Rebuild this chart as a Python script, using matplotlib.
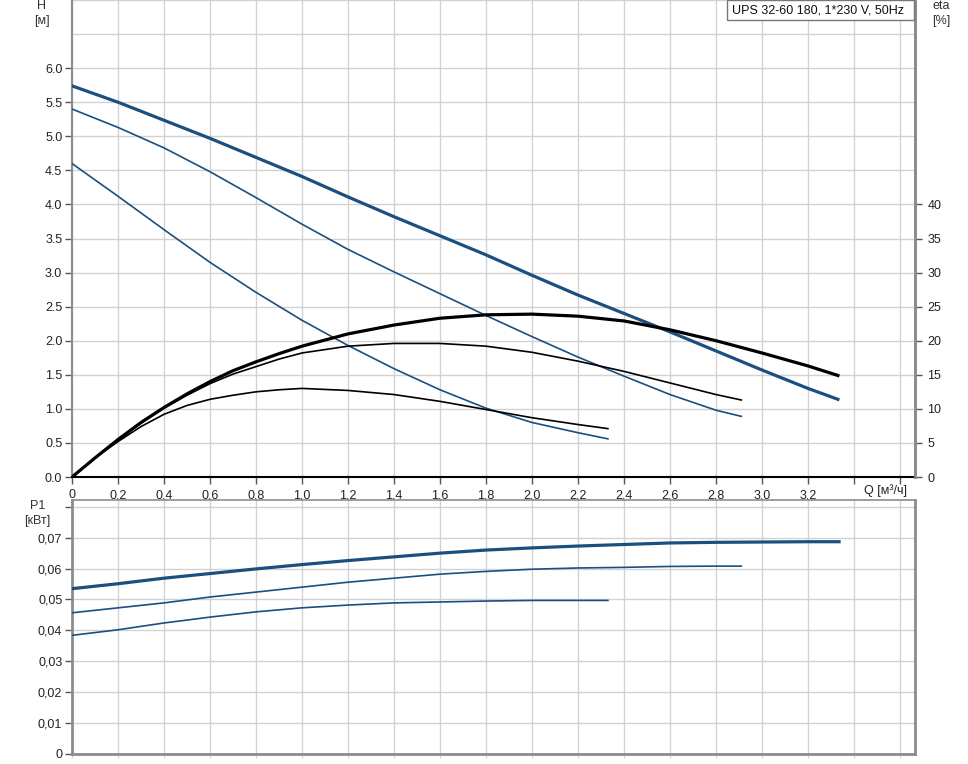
import matplotlib
matplotlib.use("Agg")
import matplotlib.pyplot as plt
from matplotlib.ticker import FixedLocator
from matplotlib.patches import Rectangle

plt.rcParams['font.family'] = ['Liberation Sans', 'DejaVu Sans']

# ---------------- data ----------------
# H curves (m)
q_h1 = [0, 0.2, 0.6, 1.0, 1.2, 1.4, 1.6, 1.8, 2.0, 2.2, 2.4, 2.6, 2.8, 3.0, 3.2, 3.33]
h1 = [5.74, 5.50, 4.97, 4.41, 4.11, 3.82, 3.54, 3.26, 2.96, 2.67, 2.40, 2.13, 1.85, 1.57, 1.30, 1.14]
q_h2 = [0, 0.2, 0.4, 0.6, 0.8, 1.0, 1.2, 1.4, 1.6, 1.8, 2.0, 2.2, 2.4, 2.6, 2.8, 2.91]
h2 = [5.40, 5.13, 4.83, 4.48, 4.10, 3.71, 3.34, 3.01, 2.69, 2.37, 2.06, 1.76, 1.48, 1.21, 0.98, 0.89]
q_h3 = [0, 0.2, 0.4, 0.6, 0.8, 1.0, 1.2, 1.4, 1.6, 1.8, 2.0, 2.2, 2.33]
h3 = [4.60, 4.12, 3.63, 3.15, 2.71, 2.30, 1.93, 1.59, 1.28, 1.01, 0.80, 0.65, 0.56]

# eta curves (%)
q_e1 = [0, 0.1, 0.2, 0.3, 0.4, 0.5, 0.6, 0.7, 0.8, 0.9, 1.0, 1.2, 1.4, 1.6, 1.8, 2.0, 2.2, 2.4,
        2.6, 2.8, 3.0, 3.2, 3.33]
e1 = [0, 2.8, 5.5, 8.0, 10.2, 12.2, 14.0, 15.6, 16.9, 18.1, 19.2, 21.0, 22.3, 23.3, 23.8, 23.9,
      23.6, 22.9, 21.6, 20.0, 18.2, 16.3, 14.9]
q_e2 = [0, 0.1, 0.2, 0.3, 0.4, 0.5, 0.6, 0.7, 0.8, 0.9, 1.0, 1.2, 1.4, 1.6, 1.8, 2.0, 2.2, 2.4,
        2.6, 2.8, 2.91]
e2 = [0, 2.8, 5.4, 7.9, 10.1, 12.0, 13.7, 15.1, 16.2, 17.3, 18.2, 19.2, 19.6, 19.6, 19.2, 18.3,
      17.0, 15.5, 13.8, 12.1, 11.3]
q_e3 = [0, 0.1, 0.2, 0.3, 0.4, 0.5, 0.6, 0.7, 0.8, 0.9, 1.0, 1.2, 1.4, 1.6, 1.8, 2.0, 2.2, 2.33]
e3 = [0, 2.8, 5.2, 7.4, 9.2, 10.5, 11.4, 12.0, 12.5, 12.8, 13.0, 12.7, 12.1, 11.1, 9.9, 8.7, 7.7, 7.1]

# P1 curves (kW)
q_p1 = [0, 0.2, 0.4, 0.6, 0.8, 1.0, 1.2, 1.4, 1.6, 1.8, 2.0, 2.2, 2.4, 2.6, 2.8, 3.0, 3.2, 3.335]
p1 = [0.0535, 0.0551, 0.0569, 0.0584, 0.0599, 0.0613, 0.0626, 0.0638, 0.0650, 0.0660, 0.0667,
      0.0673, 0.0678, 0.0683, 0.0685, 0.0686, 0.0687, 0.0687]
q_p2 = [0, 0.2, 0.4, 0.6, 0.8, 1.0, 1.2, 1.4, 1.6, 1.8, 2.0, 2.2, 2.4, 2.6, 2.8, 2.91]
p2 = [0.0457, 0.0473, 0.0489, 0.0508, 0.0524, 0.0540, 0.0556, 0.0569, 0.0582, 0.0591, 0.0598,
      0.0602, 0.0604, 0.0607, 0.0608, 0.0608]
q_p3 = [0, 0.2, 0.4, 0.6, 0.8, 1.0, 1.2, 1.4, 1.6, 1.8, 2.0, 2.2, 2.33]
p3 = [0.0384, 0.0402, 0.0424, 0.0443, 0.0460, 0.0473, 0.0482, 0.0489, 0.0492, 0.0495, 0.0497,
      0.0497, 0.0497]

x_ticks = [0, 0.2, 0.4, 0.6, 0.8, 1.0, 1.2, 1.4, 1.6, 1.8, 2.0, 2.2, 2.4, 2.6, 2.8, 3.0, 3.2, 3.4, 3.6]
x_labels = ['0', '0,2', '0,4', '0,6', '0,8', '1,0', '1,2', '1,4', '1,6', '1,8', '2,0', '2,2',
            '2,4', '2,6', '2,8', '3,0', '3,2', '', '']
h_ticks = [0, 0.5, 1.0, 1.5, 2.0, 2.5, 3.0, 3.5, 4.0, 4.5, 5.0, 5.5, 6.0]
h_labels = ['0.0', '0.5', '1.0', '1.5', '2.0', '2.5', '3.0', '3.5', '4.0', '4.5', '5.0', '5.5', '6.0']
eta_ticks = [0, 5, 10, 15, 20, 25, 30, 35, 40]
p_ticks = [0, 0.01, 0.02, 0.03, 0.04, 0.05, 0.06, 0.07, 0.08]
p_labels = ['0', '0,01', '0,02', '0,03', '0,04', '0,05', '0,06', '0,07', '']

title = "UPS 32-60 180, 1*230 V, 50Hz"

# ---------------- style ----------------
BLUE = '#1b4f80'
GRID = '#d2d2d2'
SPINE = '#8c8c8c'
FS = 9.0
W, H = 968, 764

fig = plt.figure(figsize=(W / 100, H / 100), dpi=100)

def box(l, t, r, b):
    return [l / W, 1 - b / H, (r - l) / W, (b - t) / H]

XMAX = (915 - 72) / 230.0

# ---------- top axes ----------
ax = fig.add_axes(box(72, 0, 915, 477))
ax.set_xlim(0, XMAX)
ax.set_ylim(0, 7.0)
ax.xaxis.set_major_locator(FixedLocator(x_ticks))
ax.set_xticklabels(x_labels)
ax.yaxis.set_major_locator(FixedLocator(h_ticks))
ax.set_yticklabels(h_labels)
ax.yaxis.set_minor_locator(FixedLocator([6.5, 7.0]))
ax.tick_params(axis='y', which='minor', length=0)
ax.grid(True, which='both', color=GRID, lw=1.0)
ax.set_axisbelow(True)
ax.tick_params(axis='both', which='major', labelsize=FS, length=5, width=1,
               color='#555555', labelcolor='#222222', pad=2)
ax.tick_params(axis='x', pad=4)
ax.spines['top'].set_visible(False)
ax.spines['left'].set_color(SPINE)
ax.spines['left'].set_linewidth(1.5)
ax.spines['bottom'].set_color('black')
ax.spines['bottom'].set_linewidth(1.5)
ax.spines['right'].set_color(SPINE)
ax.spines['right'].set_linewidth(2.0)

ax.plot(q_h1, h1, color=BLUE, lw=2.3, zorder=3)
ax.plot(q_h2, h2, color=BLUE, lw=1.2, zorder=3)
ax.plot(q_h3, h3, color=BLUE, lw=1.2, zorder=3)

ax2 = ax.twinx()
ax2.set_ylim(0, 70)
ax2.yaxis.set_major_locator(FixedLocator(eta_ticks))
ax2.tick_params(axis='y', labelsize=FS, length=5, width=1, color='#555555',
                labelcolor='#222222', pad=4)
for s in ['top', 'left', 'bottom']:
    ax2.spines[s].set_visible(False)
ax2.spines['right'].set_color(SPINE)
ax2.spines['right'].set_linewidth(2.0)
ax2.plot(q_e1, e1, color='black', lw=2.3, zorder=3)
ax2.plot(q_e2, e2, color='black', lw=1.2, zorder=3)
ax2.plot(q_e3, e3, color='black', lw=1.2, zorder=3)

# ---------- bottom axes ----------
bx = fig.add_axes(box(72, 500, 915, 754))
bx.set_xlim(0, XMAX)
bx.set_ylim(0, 0.0822)
bx.xaxis.set_major_locator(FixedLocator(x_ticks))
bx.set_xticklabels([])
bx.yaxis.set_major_locator(FixedLocator(p_ticks))
bx.set_yticklabels(p_labels)
bx.grid(True, color=GRID, lw=1.0)
bx.set_axisbelow(True)
bx.tick_params(axis='y', labelsize=FS, length=5, width=1, color='#555555',
               labelcolor='#222222', pad=2)
bx.tick_params(axis='x', length=3, color=GRID)
for s in ['left', 'bottom', 'right']:
    bx.spines[s].set_color(SPINE)
    bx.spines[s].set_linewidth(2.0)
bx.spines['top'].set_color(SPINE)
bx.spines['top'].set_linewidth(1.2)

bx.plot(q_p1, p1, color=BLUE, lw=2.3, zorder=3)
bx.plot(q_p2, p2, color=BLUE, lw=1.2, zorder=3)
bx.plot(q_p3, p3, color=BLUE, lw=1.2, zorder=3)

# ---------- labels ----------
def ftext(x, y, s, **kw):
    fig.text(x / W, 1 - y / H, s, fontsize=FS, ha='center', va='center', **kw)

ftext(42, 6, 'H', color='#333333')
ftext(42, 21, '[м]', color='#333333')
ftext(941, 6, 'eta', color='#333333')
ftext(941, 21, '[%]', color='#333333')
ftext(885, 491, 'Q [м³/ч]', color='#222222')
ftext(38, 506, 'P1', color='#333333')
ftext(37, 521, '[кВт]', color='#333333')

fig.patches.append(Rectangle((727 / W, 1 - 20 / H), (914 - 727) / W, 20 / H,
                             transform=fig.transFigure, facecolor='white',
                             edgecolor='#777777', lw=1.0, zorder=5))
fig.text(732 / W, 1 - 10.5 / H, title, fontsize=FS, ha='left', va='center',
         color='#111111', zorder=6)

fig.savefig('out.png', dpi=100)
